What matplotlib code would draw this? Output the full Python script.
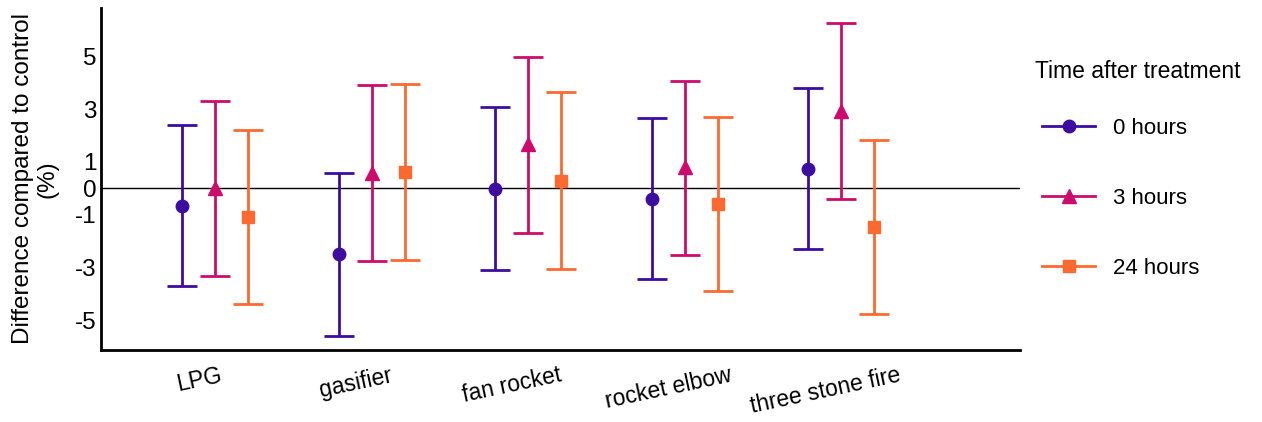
import matplotlib
matplotlib.use("Agg")
import matplotlib.pyplot as plt
import matplotlib.transforms as mtransforms
import numpy as np
from matplotlib.lines import Line2D

plt.rcParams['font.family'] = ['Liberation Sans', 'DejaVu Sans']

# data
stoves = ["LPG", "gasifier", "fan rocket", "rocket elbow", "three stone fire"]
times = ["0 hours", "3 hours", "24 hours"]

mean_0h = [-0.67, -2.50, -0.03, -0.41, 0.73]
low_0h = [-3.71, -5.58, -3.11, -3.44, -2.31]
high_0h = [2.41, 0.59, 3.08, 2.66, 3.79]

mean_3h = [0.02, 0.59, 1.68, 0.82, 2.94]
low_3h = [-3.33, -2.75, -1.69, -2.51, -0.40]
high_3h = [3.29, 3.90, 4.98, 4.05, 6.25]

mean_24h = [-1.10, 0.63, 0.29, -0.61, -1.46]
low_24h = [-4.37, -2.73, -3.04, -3.89, -4.75]
high_24h = [2.19, 3.95, 3.65, 2.70, 1.84]

ytick_vals = [5, 3, 1, 0, -1, -3, -5]

series = [
    (mean_0h, low_0h, high_0h, "#3c0d9f", "o", 9),
    (mean_3h, low_3h, high_3h, "#cc0c6c", "^", 10),
    (mean_24h, low_24h, high_24h, "#fc6a32", "s", 8.5),
]

fig = plt.figure(figsize=(12.62, 4.22), dpi=100)
ax = fig.add_axes([0.080, 0.171, 0.728, 0.810])

x = np.arange(len(stoves))
dodge = 0.21

ax.axhline(0, color="black", lw=1.0, zorder=1)

handles = []
for i, (m, lo, hi, col, mk, ms) in enumerate(series):
    m = np.array(m)
    err = np.vstack([m - np.array(lo), np.array(hi) - m])
    xi = x + (i - 1) * dodge
    ax.errorbar(xi, m, yerr=err, fmt=mk, color=col, ms=ms, elinewidth=2.0,
                capsize=10.5, capthick=2.0, zorder=3)
    handles.append(Line2D([0], [0], color=col, lw=2.0, marker=mk, ms=ms))

ax.set_xlim(-0.73, 5.14)
ax.set_ylim(-6.12, 6.83)
ax.set_yticks(ytick_vals)
ax.set_yticklabels([str(v) for v in ytick_vals], fontsize=17.5)
ax.set_xticks(x)
ax.set_xticklabels(stoves, fontsize=16.5, rotation=12, ha="center")
ax.tick_params(axis="both", length=0)
ax.tick_params(axis="y", pad=3)
ax.tick_params(axis="x", pad=10)

# labels sit a little left of the group centres in the reference
shift = mtransforms.ScaledTranslation(-16 / 100, 0, fig.dpi_scale_trans)
for lab in ax.get_xticklabels():
    lab.set_transform(lab.get_transform() + shift)

for s in ["top", "right"]:
    ax.spines[s].set_visible(False)
for s in ["left", "bottom"]:
    ax.spines[s].set_linewidth(2.0)
    ax.spines[s].set_color("black")

ax.set_ylabel("Difference compared to control\n(%)", fontsize=17.5,
              linespacing=1.2)
ax.yaxis.set_label_coords(-42 / 919, 0.50)

fig.text(1035 / 1262, 1 - 72 / 422, "Time after treatment", fontsize=16.5,
         ha="left", va="center")
leg = fig.legend(handles, times, loc="upper left",
                 bbox_to_anchor=(1031 / 1262, 1 - 107 / 422),
                 frameon=False, fontsize=16, handlelength=2.4,
                 handletextpad=0.8, labelspacing=2.2, borderpad=0)

fig.savefig("out.png", dpi=100)
